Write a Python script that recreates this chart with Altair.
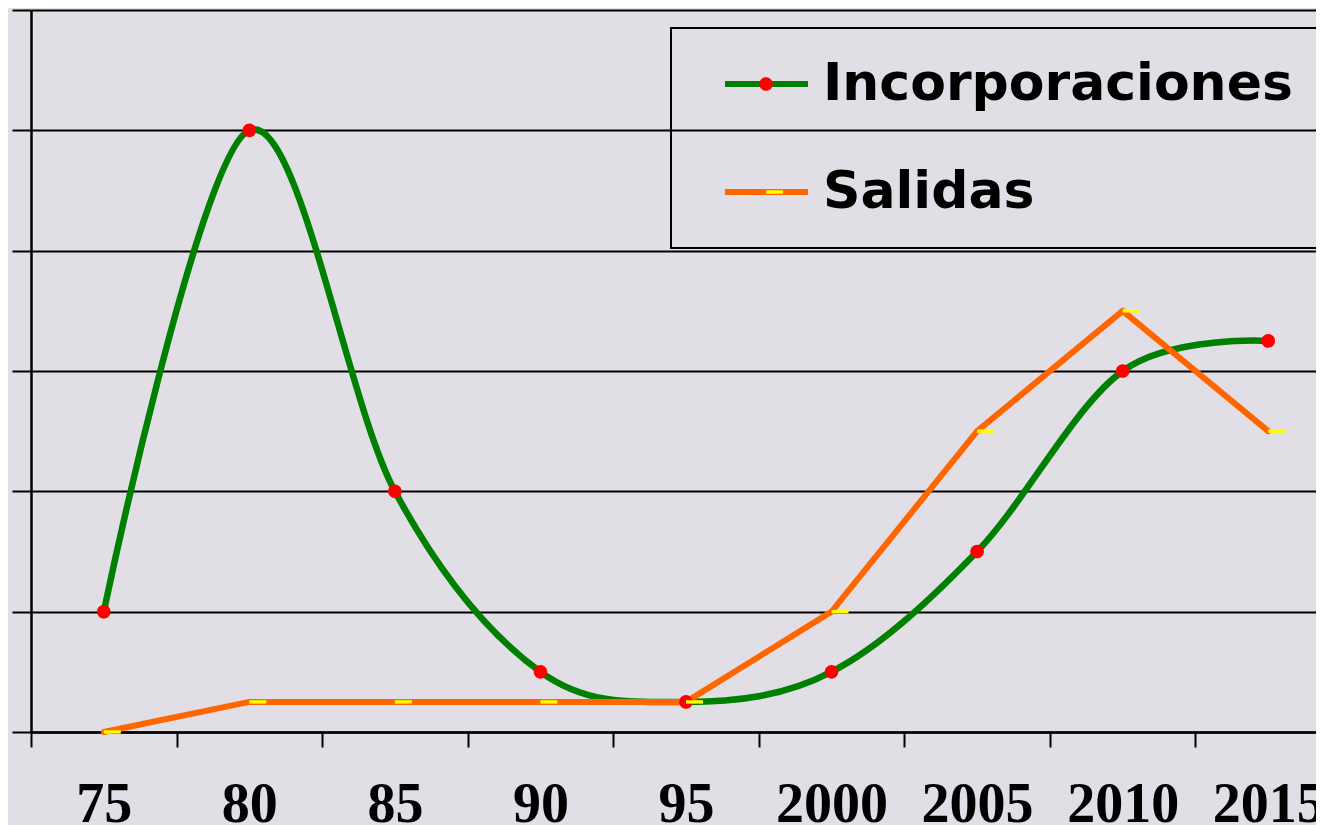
import altair as alt
import pandas as pd

years = ["75", "80", "85", "90", "95", "2000", "2005", "2010", "2015"]
incorporaciones = [1.0, 5.0, 2.0, 0.5, 0.25, 0.5, 1.5, 3.0, 3.25]
salidas = [0.0, 0.25, 0.25, 0.25, 0.25, 1.0, 2.5, 3.5, 2.5]
series_names = ["Incorporaciones", "Salidas"]
marker_names = ["Incorporaciones ", "Salidas "]
line_colors = ["#008000", "#FF6600"]
marker_colors = ["#FF0000", "#FFFF00"]
y_ticks = [0, 1, 2, 3, 4, 5, 6]

dot_path = "M-0.8,0A0.8,0.8 0 1,0 0.8,0A0.8,0.8 0 1,0 -0.8,0Z"
dash_path = "M0,-0.2H2V0.2H0Z"
pad_text = "\u00a0" * 12 + "\u2800"

rows = []
for name, mk, vals in [(series_names[0], marker_names[0], incorporaciones),
                       (series_names[1], marker_names[1], salidas)]:
    for yr, v in zip(years, vals):
        rows.append({"year": yr, "series": name, "marker": mk, "value": v})
df = pd.DataFrame(rows)

x_enc = alt.X(
    "year:N",
    sort=years,
    scale=alt.Scale(type="band", domain=years, range=[0, 1310], paddingInner=0, paddingOuter=0),
    axis=alt.Axis(
        title=None, tickBand="extent", grid=False,
        domainColor="black", domainWidth=2.5,
        tickColor="black", tickSize=15, tickWidth=2,
        labelFont="Liberation Serif", labelFontWeight="bold", labelFontSize=56,
        labelColor="black", labelPadding=30, labelOverlap=False, labelFlush=False,
        labelAngle=0,
    ),
)
y_enc = alt.Y(
    "value:Q",
    scale=alt.Scale(domain=[0, 6], nice=False, zero=True),
    axis=alt.Axis(
        title=None, values=y_ticks, labels=False, grid=True,
        gridColor="black", gridWidth=2, gridOpacity=1,
        domainColor="black", domainWidth=2.5,
        tickColor="black", tickSize=19, tickWidth=2,
    ),
)

legend_lines = alt.Legend(
    title=None, orient="none", legendX=640, legendY=18,
    symbolType="stroke", symbolSize=83 * 83, symbolStrokeWidth=6,
    labelFont="DejaVu Sans", labelFontWeight="bold", labelFontSize=52,
    labelColor="black", labelLimit=3000, labelOffset=12,
    labelExpr="datum.label + '" + pad_text + "'",
    padding=12, rowPadding=20, clipHeight=88, symbolOffset=39,
    strokeColor="black",
)
color_enc = alt.Color(
    "series:N",
    scale=alt.Scale(domain=series_names, range=line_colors),
    legend=legend_lines,
)

legend_marks = alt.Legend(
    title=None, orient="none", legendX=640, legendY=18,
    symbolSize=289, symbolStrokeWidth=0,
    labelFontSize=50, labelExpr="''", labelLimit=3000,
    padding=12, rowPadding=20, clipHeight=88, symbolOffset=58,
)

line_inc = alt.Chart().mark_line(
    interpolate="cardinal", strokeWidth=6.5, strokeCap="round", strokeJoin="round"
).encode(x=x_enc, y=y_enc, color=color_enc).transform_filter(
    alt.datum.series == series_names[0]
)
line_sal = alt.Chart().mark_line(
    strokeWidth=6, strokeCap="round", strokeJoin="round"
).encode(x=x_enc, y=y_enc, color=color_enc).transform_filter(
    alt.datum.series == series_names[1]
)
points = alt.Chart().mark_point(filled=True, size=289, strokeWidth=0, opacity=1).encode(
    x=x_enc,
    y=y_enc,
    shape=alt.Shape("marker:N", scale=alt.Scale(domain=marker_names, range=[dot_path, dash_path]),
                    legend=legend_marks),
    fill=alt.Fill("marker:N", scale=alt.Scale(domain=marker_names, range=marker_colors),
                  legend=legend_marks),
)

chart = alt.layer(line_inc, line_sal, points, data=df).properties(
    width=1285,
    height=722,
    background="#E1DEE5",
    padding={"left": 23, "top": 2, "right": 0, "bottom": 93},
    autosize=alt.AutoSizeParams(type="none"),
).configure_view(strokeWidth=0).configure_legend(strokeWidth=2)

chart.save("out.html", embed_options={"renderer": "svg", "actions": False})
